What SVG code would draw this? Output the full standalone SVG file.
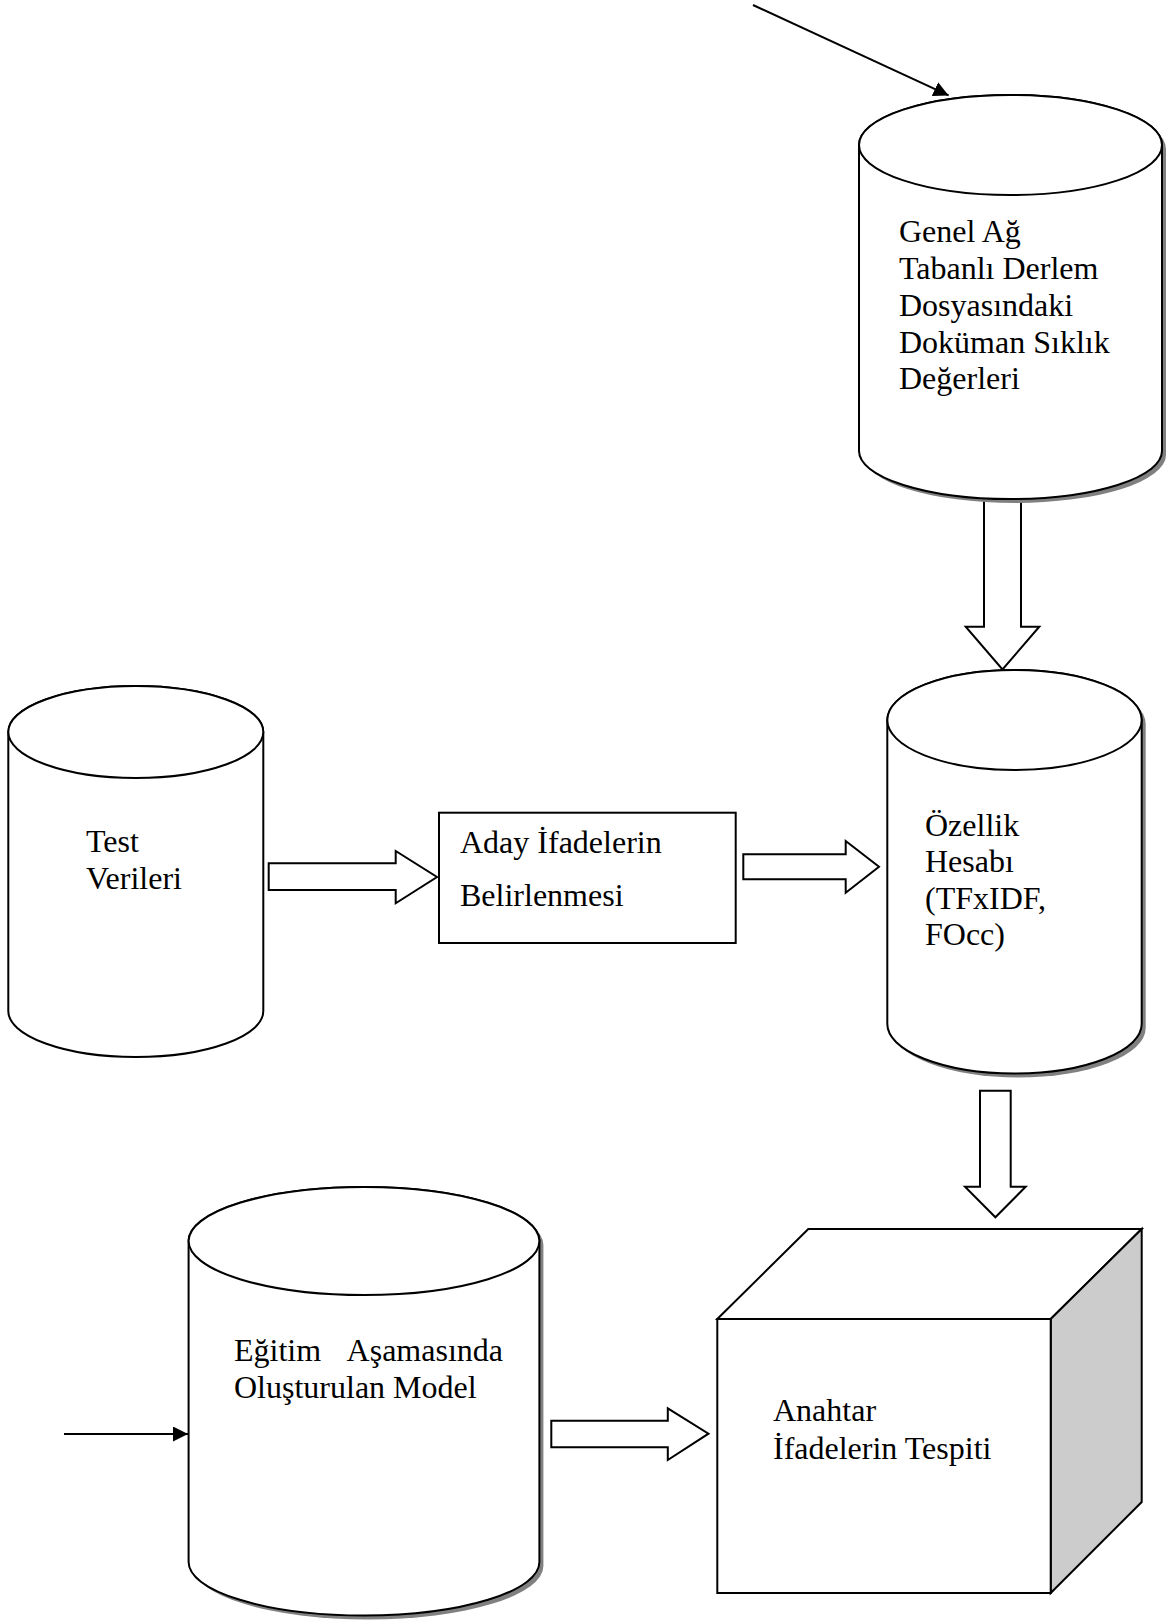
<svg xmlns="http://www.w3.org/2000/svg" width="1174" height="1620" viewBox="0 0 1174 1620">
<style>
.shape{fill:#fff;stroke:#000;stroke-width:2}
.shadow{fill:#808080;stroke:none}
.line{fill:none;stroke:#000;stroke-width:2}
.label{font-family:"Liberation Serif","Times New Roman",serif;font-size:32px;fill:#000}
.side{fill:#ccc;stroke:#000;stroke-width:2}
</style>
<defs>
<marker id="ah" markerWidth="16" markerHeight="16" refX="15" refY="7.5" orient="auto" markerUnits="userSpaceOnUse">
<path d="M0,0 L15,7.5 L0,15 Z" fill="#000"/>
</marker>
</defs>
<rect width="1174" height="1620" fill="#fff"/>
<g id="connectors">
<line class="line" x1="753" y1="5" x2="948.6" y2="95.4" marker-end="url(#ah)"/>
<line class="line" x1="64" y1="1434" x2="188" y2="1434" marker-end="url(#ah)"/>
<polygon class="shape" points="984,480 984,626.7 965.7,626.7 1002.5,669.5 1039.3,626.7 1021,626.7 1021,480"/>
<polygon class="shape" points="268.7,863.3 395.7,863.3 395.7,851 437,877 395.7,903.3 395.7,890 268.7,890"/>
<polygon class="shape" points="743.3,854.3 845.7,854.3 845.7,841 879,866.7 845.7,892.7 845.7,879.3 743.3,879.3"/>
<polygon class="shape" points="980,1090.7 980,1186.7 965,1186.7 995.4,1217.3 1025.7,1186.7 1010.7,1186.7 1010.7,1090.7"/>
<polygon class="shape" points="551.3,1420.7 667.8,1420.7 667.8,1408.3 708.5,1433.7 667.8,1460 667.8,1447.3 551.3,1447.3"/>
</g>
<g id="node-genel">
<path class="shadow" transform="translate(4,4)" d="M859,145 A151.5,50 0 0 1 1162,145 L1162,451 A151.5,48 0 0 1 859,451 Z"/>
<path class="shape" d="M859,145 A151.5,50 0 0 1 1162,145 L1162,451 A151.5,48 0 0 1 859,451 Z"/>
<ellipse class="shape" cx="1010.5" cy="145" rx="151.5" ry="50"/>
<text class="label"><tspan x="899" y="242">Genel Ağ</tspan><tspan x="899" y="279">Tabanlı Derlem</tspan><tspan x="899" y="315.5">Dosyasındaki</tspan><tspan x="899" y="352.5">Doküman Sıklık</tspan><tspan x="899" y="389">Değerleri</tspan></text>
</g>
<g id="node-test">
<path class="shape" d="M8.3,732 A127.5,46 0 0 1 263.3,732 L263.3,1011 A127.5,46 0 0 1 8.3,1011 Z"/>
<ellipse class="shape" cx="135.8" cy="732" rx="127.5" ry="46"/>
<text class="label"><tspan x="86" y="852.3">Test</tspan><tspan x="86" y="889">Verileri</tspan></text>
</g>
<g id="node-aday">
<rect class="shape" x="439" y="812.7" width="296.7" height="130.3"/>
<text class="label"><tspan x="460" y="852.7">Aday İfadelerin</tspan><tspan x="460" y="906">Belirlenmesi</tspan></text>
</g>
<g id="node-ozellik">
<path class="shadow" transform="translate(4,4)" d="M887.3,720 A127.2,50 0 0 1 1141.7,720 L1141.7,1024 A127.2,49.5 0 0 1 887.3,1024 Z"/>
<path class="shape" d="M887.3,720 A127.2,50 0 0 1 1141.7,720 L1141.7,1024 A127.2,49.5 0 0 1 887.3,1024 Z"/>
<ellipse class="shape" cx="1014.5" cy="720" rx="127.2" ry="50"/>
<text class="label"><tspan x="925" y="835.5">Özellik</tspan><tspan x="925" y="872">Hesabı</tspan><tspan x="925" y="908.5">(TFxIDF,</tspan><tspan x="925" y="945">FOcc)</tspan></text>
</g>
<g id="node-egitim">
<path class="shadow" transform="translate(4,4)" d="M188.6,1241 A175.4,54 0 0 1 539.4,1241 L539.4,1562 A175.4,53.5 0 0 1 188.6,1562 Z"/>
<path class="shape" d="M188.6,1241 A175.4,54 0 0 1 539.4,1241 L539.4,1562 A175.4,53.5 0 0 1 188.6,1562 Z"/>
<ellipse class="shape" cx="364" cy="1241" rx="175.4" ry="54"/>
<text class="label"><tspan x="234" y="1361">Eğitim</tspan><tspan x="503" y="1361" text-anchor="end">Aşamasında</tspan><tspan x="234" y="1397.7">Oluşturulan Model</tspan></text>
</g>
<g id="node-anahtar">
<polygon class="shape" points="717.3,1319 808.3,1229 1141.7,1229 1050.7,1319"/>
<polygon class="side" points="1050.7,1319 1141.7,1229 1141.7,1502 1050.7,1593"/>
<rect class="shape" x="717.3" y="1319" width="333.4" height="274"/>
<text class="label"><tspan x="773" y="1421">Anahtar</tspan><tspan x="773" y="1459">İfadelerin Tespiti</tspan></text>
</g>
</svg>
